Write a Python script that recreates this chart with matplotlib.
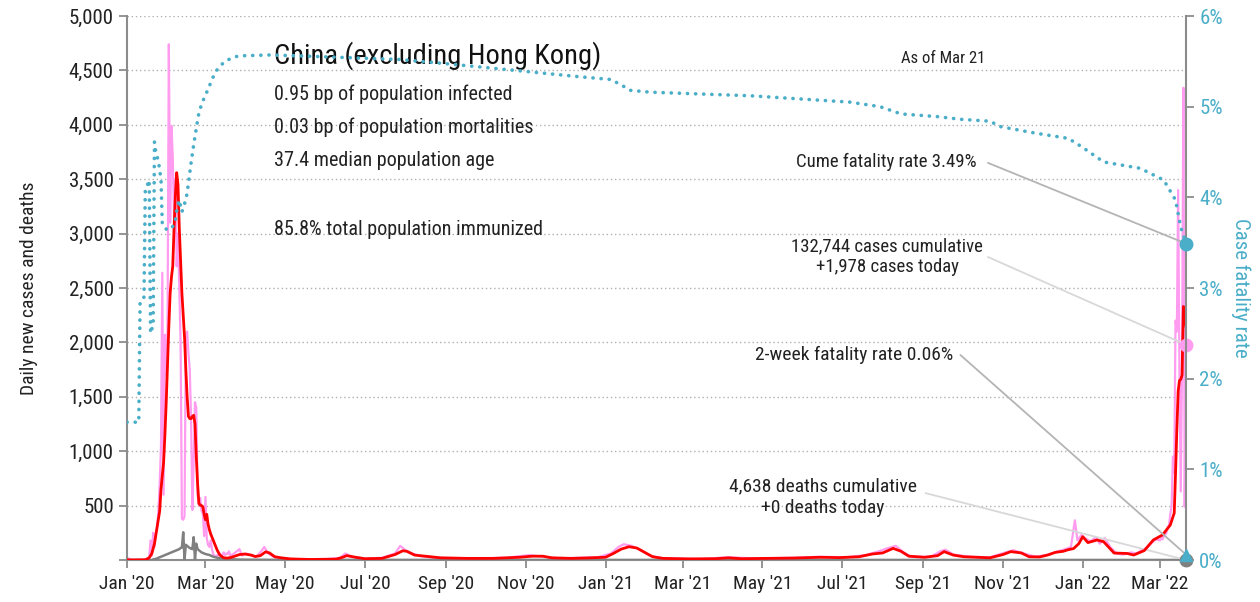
import matplotlib
matplotlib.use("Agg")
import matplotlib.pyplot as plt
import matplotlib.dates as mdates
from matplotlib import font_manager
from matplotlib.ticker import FuncFormatter, MultipleLocator
import pandas as pd

# pick a narrow font if there is one
names = set(f.name for f in font_manager.fontManager.ttflist)
narrow = [f for f in ["Liberation Sans Narrow", "Roboto Condensed", "Open Sans Condensed"] if f in names]
plt.rcParams["font.family"] = narrow + ["DejaVu Sans"]

start = pd.Timestamp("2020-01-01")

# daily new cases, Jan 1 - Mar 20 2020 (one value per day)
cases_early = [20, 15, 10, 5, 0, 0, 0, 0, 0, 0, 0, 0, 0, 0, 5, 10, 15,
               30, 180, 40, 250, 120, 240, 300, 450, 700, 1050, 2640, 600, 2070,
               1700, 2100, 4740, 3100, 3990, 3700, 3150, 3500, 2700, 3000,
               2500, 2000, 380, 370, 400, 2050, 2100, 1900, 1750, 1300,
               460, 900, 1450, 1400, 600, 500, 570, 450, 430, 220,
               580, 200, 140, 120, 180, 100, 50, 40, 30, 45,
               40, 60, 35, 50, 70, 45, 60, 55, 80, 40]
# daily new cases after that (day offset, value)
cases_day = [80, 83, 86, 88, 91, 95, 99, 103, 105, 108, 112, 118, 125, 135, 150, 163, 167, 172,
             180, 195, 205, 209, 213, 218, 225, 235, 260, 290, 300, 308, 318, 330, 345, 360,
             370, 376, 380, 386, 392, 400, 410, 440, 460, 480, 510, 530, 550, 565, 575, 582,
             588, 594, 600, 615, 622, 626, 632, 645, 660, 672, 678, 686, 695, 705, 712, 718,
             722, 725, 727, 730, 733, 737, 741, 744, 748, 752, 757, 762, 768, 772, 776, 780,
             784, 787, 790, 791, 792, 793, 794, 795, 796, 797, 798, 799, 800, 801, 802, 803,
             804, 805, 806, 807, 808, 809, 810]
cases_val = [45, 70, 100, 40, 60, 45, 30, 85, 120, 60, 30, 15, 10, 5, 5, 20, 60, 30,
             10, 20, 60, 130, 90, 60, 35, 20, 15, 20, 35, 45, 30, 15, 20, 25,
             60, 120, 145, 130, 95, 40, 15, 10, 25, 15, 20, 30, 25, 45, 80, 110,
             130, 70, 30, 30, 80, 95, 50, 30, 25, 70, 90, 60, 30, 50, 80, 100,
             120, 365, 180, 230, 200, 170, 210, 150, 200, 120, 60, 50, 70, 60, 90, 110,
             160, 190, 180, 200, 190, 220, 230, 250, 300, 320, 420, 500, 950, 800, 2200, 2100,
             3400, 1700, 630, 1800, 4340, 490, 1978]

# 7-day average of new cases (day offset, value)
avg_day = [0, 14, 17, 19, 21, 23, 25, 26, 27, 28, 29, 30, 31, 32, 33, 34, 35, 36, 37, 38, 39,
           40, 41, 42, 43, 44, 45, 46, 47, 48, 49, 50, 51, 52, 53, 54, 55, 56, 57, 58, 59,
           60, 61, 62, 63, 64, 65, 67, 69, 71, 74, 77, 80, 86, 90, 95, 98, 102, 106, 109,
           113, 118, 125, 140, 160, 165, 168, 175, 182, 195, 205, 211, 214, 220, 228, 240,
           260, 280, 300, 310, 318, 325, 340, 355, 366, 372, 378, 384, 390, 396, 402, 410,
           430, 450, 460, 470, 490, 510, 530, 545, 560, 570, 578, 586, 592, 598, 610, 620,
           625, 632, 640, 650, 660, 670, 676, 684, 690, 698, 704, 710, 716, 720, 724, 728,
           731, 735, 742, 747, 755, 765, 770, 778, 785, 792, 798, 801, 802, 803, 804, 805,
           806, 807, 808, 809, 810]
avg_val = [0, 2, 20, 60, 150, 300, 450, 650, 780, 900, 1150, 1450, 1800, 2150, 2450, 2600,
           2700, 3050, 3350, 3560, 3450, 3050, 2750, 2450, 2250, 2050, 1750, 1500, 1320, 1300,
           1300, 1320, 1330, 1250, 950, 700, 520, 505, 500, 490, 420, 370, 420, 330, 280, 240,
           210, 150, 90, 46, 20, 18, 25, 50, 55, 45, 32, 40, 75, 65, 30, 20, 10, 5, 8, 25,
           40, 25, 12, 15, 50, 85, 80, 45, 35, 20, 15, 15, 25, 35, 35, 20, 15, 20, 25, 60,
           100, 122, 110, 70, 30, 15, 10, 12, 20, 12, 15, 18, 25, 22, 30, 55, 65, 107, 80,
           35, 25, 40, 77, 45, 30, 25, 20, 50, 77, 65, 30, 28, 45, 70, 80, 95, 105, 150,
           214, 160, 184, 168, 64, 60, 46, 86, 184, 230, 322, 432, 800, 1200, 1550, 1650,
           1660, 1700, 2330, 2250, 2150]

# daily new deaths (day offset, value)
deaths_day = [0, 19, 20, 21, 22, 23, 24, 25, 26, 28, 30, 32, 34, 36, 38, 40, 41, 42, 43, 44,
              45, 46, 47, 48, 49, 50, 51, 52, 53, 54, 55, 57, 60, 63, 66, 70, 76, 79, 90,
              120, 810]
deaths_val = [0, 0, 5, 8, 10, 15, 20, 25, 30, 40, 50, 60, 70, 80, 90, 100, 110, 115, 255, 5,
              140, 130, 120, 110, 105, 100, 210, 5, 150, 100, 90, 70, 55, 46, 30, 18, 10, 6, 3,
              1, 0]

# case fatality rate, %, Jan 1 - Feb 26 2020 (one value per day)
cfr_early = [1.52, 1.52, 1.52, 1.52, 1.52, 1.52, 1.52, 1.52, 1.52, 1.52,
             2.85, 2.87, 2.88, 2.90, 4.10, 4.12, 4.15, 4.19, 2.50, 2.55,
             2.57, 4.61, 4.50, 4.45, 4.40, 4.30, 4.20, 3.70, 3.68, 3.66,
             3.65, 3.64, 3.64, 3.65, 3.66, 3.68, 3.70, 3.75, 3.85, 3.92,
             3.97, 3.90, 3.84, 3.88, 3.93, 3.97, 4.05, 4.16, 4.27, 4.38,
             4.48, 4.58, 4.67, 4.76, 4.85, 4.93, 4.98]
cfr_day = [58, 60, 62, 65, 68, 72, 76, 85, 109, 132, 209, 247, 297, 346, 370, 378, 385, 400,
           477, 553, 576, 592, 620, 638, 660, 668, 694, 720, 730, 747, 775, 793, 802, 806, 810]
cfr_val = [5.06, 5.13, 5.19, 5.30, 5.39, 5.46, 5.51, 5.56, 5.57, 5.56, 5.52, 5.47, 5.40, 5.33,
           5.30, 5.24, 5.18, 5.16, 5.12, 5.05, 5.00, 4.92, 4.89, 4.86, 4.84, 4.78, 4.71, 4.65,
           4.56, 4.39, 4.32, 4.19, 3.97, 3.67, 3.49]

title = "China (excluding Hong Kong)"
stats = ["0.95 bp of population infected", "0.03 bp of population mortalities",
         "37.4 median population age", "", "85.8% total population immunized"]
last_cfr = 3.49
last_cases = 1978
last_deaths = 0
two_week_cfr = 0.06

def to_dates(days):
    return start + pd.to_timedelta(days, unit="D")

pink = "#ff9cf0"
teal = "#4aaec8"
axis_gray = "#8c8c8c"

fig = plt.figure(figsize=(12.6, 6.02), dpi=100)
ax = fig.add_axes([127 / 1260, 42 / 602, 1059 / 1260, 544 / 602])
ax2 = ax.twinx()

early_dates = pd.date_range(start, periods=len(cases_early), freq="D")
case_dates = list(early_dates) + list(to_dates(cases_day))
ax.plot(case_dates, cases_early + cases_val, color=pink, lw=1.6, zorder=2)
ax.plot(to_dates(deaths_day), deaths_val, color="#808080", lw=1.8, zorder=3)
ax.plot(to_dates(avg_day), avg_val, color="#ff0000", lw=2.0, zorder=4)

cfr_dates = list(pd.date_range(start, periods=len(cfr_early), freq="D")) + list(to_dates(cfr_day))
ax2.plot(cfr_dates, cfr_early + cfr_val, color=teal, lw=2.6, linestyle=(0, (0.05, 2.2)),
         dash_capstyle="round", zorder=3)

end = to_dates([810])[0]
ax.set_xlim(start, end)
ax.set_ylim(0, 5000)
ax2.set_ylim(0, 6)

# end markers
ax.plot([end], [last_cases], "o", color=pink, ms=9, clip_on=False, zorder=6)
ax.plot([end], [last_deaths], "o", color="#808080", ms=9, clip_on=False, zorder=6)
ax2.plot([end], [last_cfr], "o", color=teal, ms=9, clip_on=False, zorder=6)
ax2.plot([end], [two_week_cfr], "^", color=teal, ms=9, clip_on=False, zorder=6)

# axes styling
ax.yaxis.set_major_locator(MultipleLocator(500))
ax.yaxis.set_major_formatter(FuncFormatter(lambda v, p: "" if v == 0 else f"{int(v):,}"))
ax.grid(axis="y", linestyle=(0, (1, 2)), color="#b0b0b0", lw=1)
ax.set_axisbelow(True)
ax.xaxis.set_major_locator(mdates.MonthLocator(bymonth=[1, 3, 5, 7, 9, 11]))
ax.xaxis.set_major_formatter(mdates.DateFormatter("%b '%y"))
ax2.yaxis.set_major_locator(MultipleLocator(1))
ax2.yaxis.set_major_formatter(FuncFormatter(lambda v, p: f"{int(v)}%"))

for a in (ax, ax2):
    a.spines["top"].set_visible(False)
    for s in ("left", "bottom", "right"):
        a.spines[s].set_color(axis_gray)
        a.spines[s].set_linewidth(1.5)
ax.spines["right"].set_visible(False)
ax2.spines["left"].set_visible(False)
ax2.spines["bottom"].set_visible(False)
ax.tick_params(axis="y", colors=axis_gray, labelcolor="#222222", labelsize=15,
               length=6, width=1.3)
ax.tick_params(axis="x", colors=axis_gray, labelcolor="#222222", labelsize=14,
               length=6, width=1.3, pad=5)
ax2.tick_params(axis="y", colors=axis_gray, labelcolor=teal, labelsize=15, length=6, width=1.3)

ax.set_ylabel("Daily new cases and deaths", fontsize=14, color="#222222", labelpad=22)
ax2.set_ylabel("Case fatality rate", fontsize=15, color=teal, rotation=270, labelpad=20)

# headline text
ax.text(0.139, 0.927, title, transform=ax.transAxes, fontsize=20.5, color="#111111",
        va="center", ha="left")
ys = [0.857, 0.796, 0.735, 0.675, 0.607]
for s, yv in zip(stats, ys):
    ax.text(0.139, yv, s, transform=ax.transAxes, fontsize=14.5, color="#222222",
            va="center", ha="left")
ax.text(0.771, 0.921, "As of Mar 21", transform=ax.transAxes, fontsize=12,
        color="#222222", va="center", ha="center")

# callouts
lbl = dict(transform=ax.transAxes, fontsize=14, color="#222222", va="center")
ax.text(0.8027, 0.7316, f"Cume fatality rate {last_cfr:.2f}%", ha="right",
        **{**lbl, "fontsize": 13.5})
ax2.annotate("", xy=(end, last_cfr), xytext=(0.813, 0.730), textcoords="axes fraction",
             arrowprops=dict(arrowstyle="-", color="#b4b4b4", lw=1.3, shrinkA=0, shrinkB=0))
ax.text(0.7176, 0.558, "132,744 cases cumulative\n+1,978 cases today", ha="center",
        linespacing=1.2, **{**lbl, "fontsize": 13.5})
ax.annotate("", xy=(end, last_cases), xytext=(0.813, 0.557), textcoords="axes fraction",
            arrowprops=dict(arrowstyle="-", color="#d8d8d8", lw=1.3, shrinkA=0, shrinkB=0))
ax.text(0.780, 0.3768, f"2-week fatality rate {two_week_cfr:.2f}%", ha="right", **lbl)
ax2.annotate("", xy=(end, two_week_cfr), xytext=(0.787, 0.3768), textcoords="axes fraction",
             arrowprops=dict(arrowstyle="-", color="#b4b4b4", lw=1.3, shrinkA=0, shrinkB=0))
ax.text(0.657, 0.1158, "4,638 deaths cumulative\n+0 deaths today", ha="center",
        linespacing=1.25, **lbl)
ax.annotate("", xy=(end, last_deaths), xytext=(0.754, 0.123), textcoords="axes fraction",
            arrowprops=dict(arrowstyle="-", color="#d8d8d8", lw=1.3, shrinkA=0, shrinkB=0))

fig.savefig("out.png", dpi=100)
